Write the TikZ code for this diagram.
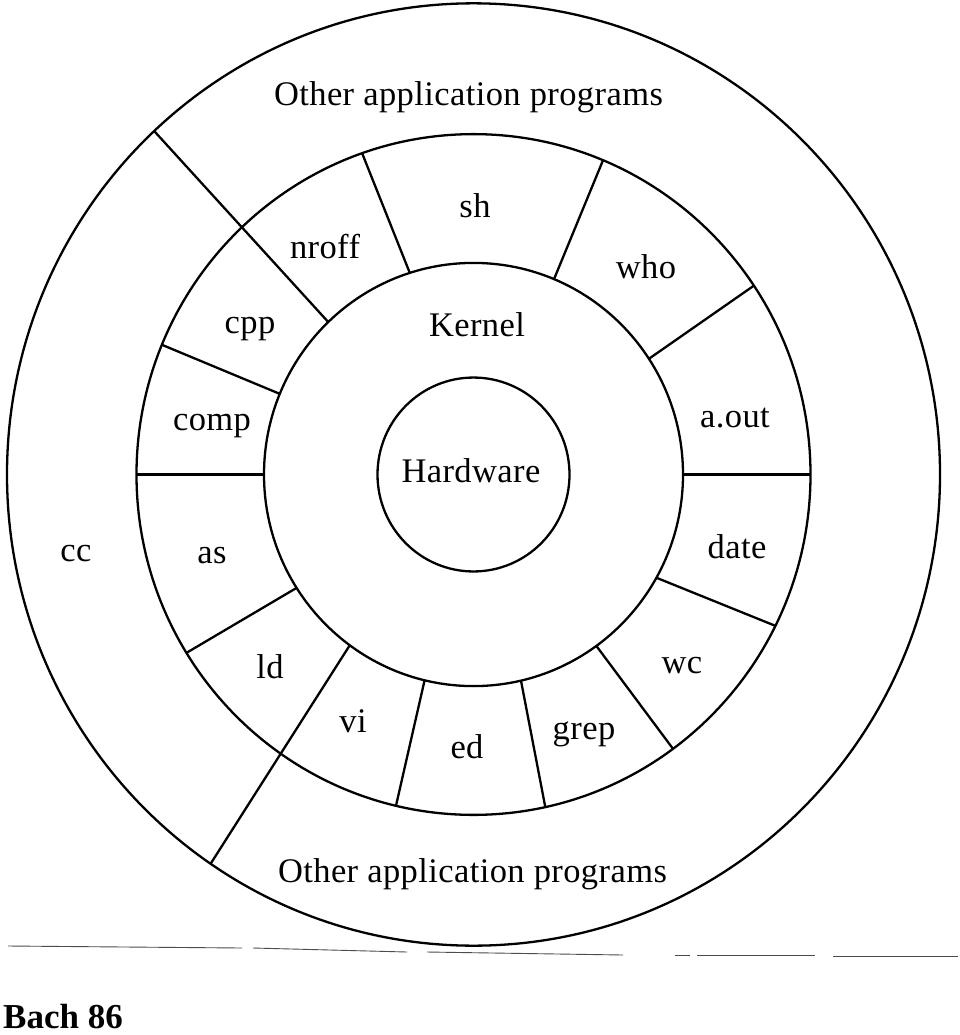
\documentclass[tikz,border=0pt]{standalone}
\usepackage{fontspec}
\setmainfont{Liberation Serif}
\begin{document}
\begin{tikzpicture}[x=1pt,y=1pt,
  ring/.style={line width=2.3pt},
  spoke/.style={line width=2.3pt},
  lbl/.style={inner sep=0pt, anchor=base, font=\fontsize{34.5}{40}\selectfont\addfontfeatures{LetterSpace=1.2}},
  rulefrag/.style={line width=0.9pt, black!70}]
\useasboundingbox (0,0) rectangle (960,-1035);
\fill[white] (0,0) rectangle (960,-1035);
\begin{scope}[shift={(473.5,-474.5)}, yscale=1.01]
  % rings
  \draw[ring] (0,0) circle (96);
  \draw[ring] (0,0) circle (209.5);
  \draw[ring] (0,0) circle (337);
  \draw[ring] (0,0) circle (466.5);
  % tool spokes
  \draw[spoke] (107.7:209.5) -- (109.3:337);
  \draw[spoke] (133.9:209.5) -- (133.2:466.5);
  \draw[spoke] (157.6:209.5) -- (157.6:337);
  \draw[spoke] (180:209.5) -- (180:337);
  \draw[spoke] (212.4:209.5) -- (211.6:337);
  \draw[spoke] (233.8:209.5) -- (235.7:466.5);
  \draw[spoke] (256.5:209.5) -- (256.7:337);
  \draw[spoke] (283.1:209.5) -- (282.3:337);
  \draw[spoke] (305.9:209.5) -- (306.3:337);
  \draw[spoke] (330.8:209.5) -- (333.6:337);
  \draw[spoke] (0:209.5) -- (0:337);
  \draw[spoke] (33.15:209.5) -- (33.7:337);
  \draw[spoke] (67.4:209.5) -- (67.4:337);
\end{scope}
% labels
\node[lbl] (toporg) at (468.5,-106) {Other application programs};
\node[lbl] (botorg) at (472.5,-882) {Other application programs};
\node[lbl] (sh) at (475,-217) {sh};
\node[lbl] (nroff) at (325,-258) {nroff};
\node[lbl] (cpp) at (250,-333) {cpp};
\node[lbl] (comp) at (212,-430) {comp};
\node[lbl] (kernel) at (477,-336) {Kernel};
\node[lbl] (hw) at (471,-482.5) {Hardware};
\node[lbl] (who) at (646,-278) {who};
\node[lbl] (aout) at (735,-427) {a.out};
\node[lbl] (date) at (737,-558) {date};
\node[lbl] (wc) at (682,-673) {wc};
\node[lbl] (grep) at (584,-739) {grep};
\node[lbl] (ed) at (467,-758) {ed};
\node[lbl] (vi) at (353,-732) {vi};
\node[lbl] (ld) at (270,-678) {ld};
\node[lbl] (as) at (212,-563) {as};
\node[lbl] (cc) at (76,-561) {cc};
\node[inner sep=0pt, anchor=base west, font=\fontsize{35}{40}\selectfont\bfseries] (bach) at (3,-1028) {Bach 86};
% broken horizontal rule
\draw[rulefrag] (8,-946) -- (242,-948);
\draw[rulefrag] (253,-948) -- (407,-952);
\draw[rulefrag] (427,-952) -- (623,-955);
\draw[rulefrag] (675,-955) -- (690,-955);
\draw[rulefrag] (697,-955) -- (815,-955);
\draw[rulefrag] (833,-956) -- (958,-956);
\end{tikzpicture}
\end{document}
